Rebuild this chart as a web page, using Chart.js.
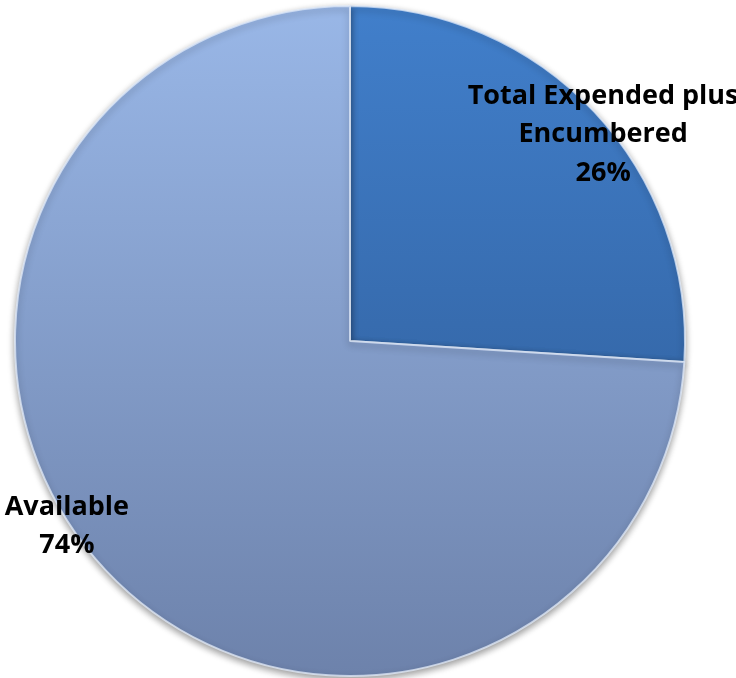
<!DOCTYPE html>
<html lang="en">
<head>
    <meta charset="UTF-8">
    <title>Budget Status</title>
    <script src="https://cdn.jsdelivr.net/npm/chart.js"></script>
    <style>
        html, body { margin: 0; padding: 0; background: #ffffff; }
        #wrap { width: 736px; height: 678px; }
    </style>
</head>
<body>
    <div id="wrap">
        <canvas id="myChart" width="736" height="678"></canvas>
    </div>

    <script>
        // Budget split
        var categories = ['Total Expended plus Encumbered', 'Available'];
        var amounts = [26, 74];

        // label text lines (percent appended below)
        var labelLines = [['Total Expended plus', 'Encumbered'], ['Available']];

        // top/bottom gradient stops per slice
        var topColors = ['#417fcb', '#99b7e7'];
        var bottomColors = ['#2c5790', '#6d82ab'];

        function sliceFill(context) {
            var chart = context.chart;
            var area = chart.chartArea;
            if (!area) return topColors[context.dataIndex];
            var g = chart.ctx.createLinearGradient(0, area.top, 0, area.bottom);
            g.addColorStop(0, topColors[context.dataIndex]);
            g.addColorStop(1, bottomColors[context.dataIndex]);
            return g;
        }

        // soft drop shadow under the pie
        var pieShadow = {
            id: 'pieShadow',
            beforeDatasetsDraw: function (chart) {
                var ctx = chart.ctx;
                ctx.save();
                ctx.shadowColor = 'rgba(0, 0, 0, 0.4)';
                ctx.shadowBlur = 7;
                ctx.shadowOffsetX = 0;
                ctx.shadowOffsetY = 3;
            },
            afterDatasetsDraw: function (chart) {
                chart.ctx.restore();
            }
        };

        // slice labels: name + percent, placed near the rim
        var sliceLabels = {
            id: 'sliceLabels',
            afterDraw: function (chart, args, opts) {
                var ctx = chart.ctx;
                var meta = chart.getDatasetMeta(0);
                var total = amounts.reduce(function (a, b) { return a + b; }, 0);
                ctx.save();
                ctx.fillStyle = '#000000';
                ctx.font = 'bold 27px "Open Sans", "Liberation Sans", sans-serif';
                ctx.textAlign = 'center';
                ctx.textBaseline = 'middle';
                meta.data.forEach(function (arc, i) {
                    var p = arc.getProps(['x', 'y', 'startAngle', 'endAngle', 'outerRadius'], true);
                    var mid = (p.startAngle + p.endAngle) / 2 + opts.nudge[i] * Math.PI / 180;
                    var r = p.outerRadius * opts.reach[i];
                    var cx = p.x + Math.cos(mid) * r;
                    var cy = p.y + Math.sin(mid) * r;
                    var lines = labelLines[i].concat([Math.round(amounts[i] / total * 100) + '%']);
                    var top = cy - (lines.length - 1) * opts.lineHeight / 2;
                    lines.forEach(function (t, k) {
                        ctx.fillText(t, cx, top + k * opts.lineHeight);
                    });
                });
                ctx.restore();
            }
        };

        var ctx = document.getElementById('myChart').getContext('2d');

        var myChart = new Chart(ctx, {
            type: 'pie',
            data: {
                labels: categories,
                datasets: [{
                    data: amounts,
                    backgroundColor: sliceFill,
                    borderColor: 'rgba(225, 235, 250, 0.75)',
                    borderWidth: 2,
                    borderJoinStyle: 'bevel'
                }]
            },
            options: {
                responsive: false,
                animation: false,
                layout: { padding: { left: 14, right: 50, top: 5, bottom: 1 } },
                plugins: {
                    legend: { display: false },
                    tooltip: { enabled: false },
                    sliceLabels: { reach: [0.975, 1.01], nudge: [4, 10], lineHeight: 38.5 }
                }
            },
            plugins: [pieShadow, sliceLabels]
        });
    </script>
</body>
</html>
